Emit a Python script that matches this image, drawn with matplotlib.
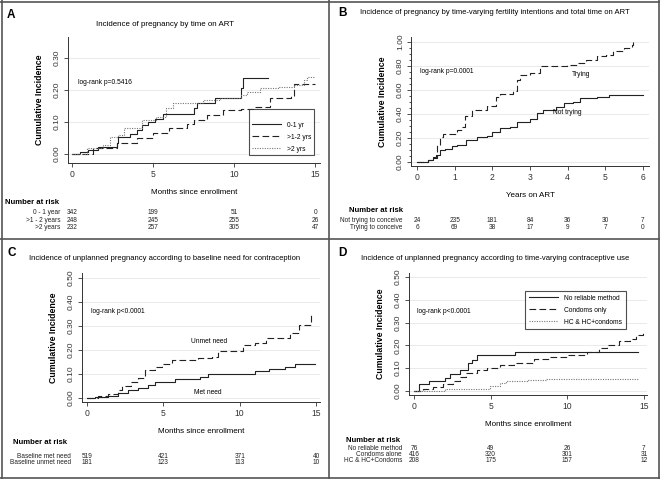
import numpy as np
import matplotlib
matplotlib.use("Agg")
import matplotlib.pyplot as plt
from matplotlib.lines import Line2D
from matplotlib.transforms import blended_transform_factory

plt.rcParams['font.family'] = ['Liberation Sans', 'DejaVu Sans']

W, H = 660, 479

# ---- panel A: pregnancy by time on ART ----
a_t1 = [0, 0.5, 1.0, 1.6, 2.75, 2.85, 3.6, 4.0, 4.3, 4.7, 5.1, 5.6, 7.5, 7.7, 8.8, 10.4, 10.55, 12.1]
a_v1 = [0, 0.007, 0.012, 0.023, 0.033, 0.052, 0.062, 0.075, 0.09, 0.10, 0.11, 0.124, 0.143, 0.16, 0.174, 0.205, 0.238, 0.238]
a_t2 = [0, 1.3, 2.75, 4.0, 5.0, 6.0, 7.1, 7.5, 8.3, 9.3, 10.4, 11.2, 12.2, 13.5, 13.7, 15.0]
a_v2 = [0, 0.018, 0.033, 0.049, 0.065, 0.08, 0.093, 0.106, 0.122, 0.137, 0.14, 0.148, 0.174, 0.18, 0.22, 0.22]
a_t3 = [0, 0.9, 1.9, 2.35, 2.85, 3.2, 4.3, 5.2, 5.8, 6.25, 8.1, 9.1, 10.4, 10.8, 11.6, 12.8, 13.7, 14.3, 14.5, 14.9]
a_v3 = [0, 0.018, 0.028, 0.054, 0.06, 0.08, 0.106, 0.117, 0.143, 0.16, 0.17, 0.174, 0.185, 0.195, 0.205, 0.21, 0.216, 0.23, 0.24, 0.24]
a_labels = ["0-1 yr", ">1-2 yrs", ">2 yrs"]
a_risk_rows = ["0 - 1 year", ">1 - 2 years", ">2 years"]
a_risk_x = [0, 5, 10, 15]
a_risk = [[342, 199, 51, 0], [248, 245, 255, 26], [232, 257, 305, 47]]

# ---- panel B: fertility intentions ----
b_t1 = [0, 0.3, 0.43, 0.5, 0.6, 0.75, 0.92, 1.05, 1.3, 1.6, 1.85, 2.0, 2.2, 2.47, 2.65, 3.0, 3.18, 3.35, 3.7, 3.9, 4.15, 4.33, 4.77, 5.1, 6.0]
b_v1 = [0, 0.015, 0.04, 0.06, 0.10, 0.11, 0.13, 0.14, 0.18, 0.205, 0.215, 0.25, 0.28, 0.29, 0.33, 0.36, 0.405, 0.43, 0.455, 0.49, 0.50, 0.53, 0.545, 0.56, 0.56]
b_t2 = [0, 0.3, 0.43, 0.54, 0.6, 0.7, 1.05, 1.2, 1.27, 1.45, 1.85, 2.1, 2.2, 2.55, 2.65, 2.73, 3.0, 3.27, 3.97, 4.24, 4.5, 4.77, 5.03, 5.2, 5.5, 5.7, 5.74]
b_v2 = [0, 0.015, 0.03, 0.14, 0.21, 0.23, 0.27, 0.29, 0.38, 0.43, 0.47, 0.54, 0.57, 0.59, 0.68, 0.725, 0.74, 0.80, 0.81, 0.82, 0.85, 0.88, 0.89, 0.92, 0.95, 0.975, 1.0]
b_risk_rows = ["Not trying to conceive", "Trying to conceive"]
b_risk_x = [0, 1, 2, 3, 4, 5, 6]
b_risk = [[24, 235, 181, 84, 36, 30, 7], [6, 69, 38, 17, 9, 7, 0]]

# ---- panel C: baseline need for contraception ----
c_t1 = [0, 0.5, 1.4, 2.05, 2.7, 3.36, 4.0, 4.45, 5.76, 7.4, 7.95, 10.1, 11.0, 11.9, 13.0, 13.6, 14.9]
c_v1 = [0, 0.005, 0.01, 0.02, 0.033, 0.04, 0.054, 0.065, 0.078, 0.089, 0.099, 0.101, 0.11, 0.12, 0.13, 0.143, 0.143]
c_t2 = [0, 0.7, 1.4, 2.05, 2.27, 2.9, 3.36, 3.8, 4.45, 4.9, 5.55, 7.3, 8.2, 8.6, 10.2, 11.0, 11.7, 13.3, 13.9, 14.7, 14.85]
c_v2 = [0, 0.008, 0.015, 0.033, 0.05, 0.068, 0.082, 0.117, 0.13, 0.14, 0.158, 0.165, 0.172, 0.196, 0.22, 0.23, 0.25, 0.27, 0.304, 0.346, 0.346]
c_risk_rows = ["Baseline met need", "Baseline unmet need"]
c_risk_x = [0, 5, 10, 15]
c_risk = [[519, 421, 371, 40], [181, 123, 113, 10]]

# ---- panel D: time-varying contraceptive use ----
d_t1 = [0, 0.35, 1.0, 2.0, 2.35, 3.0, 3.55, 3.8, 4.1, 6.6, 14.6]
d_v1 = [0, 0.03, 0.044, 0.058, 0.073, 0.09, 0.124, 0.136, 0.158, 0.17, 0.17]
d_t2 = [0, 0.6, 1.26, 1.9, 2.56, 3.0, 3.4, 4.1, 4.74, 5.6, 6.5, 7.8, 8.9, 9.96, 11.3, 12.1, 12.56, 13.4, 14.1, 14.5, 14.96]
d_v2 = [0, 0.009, 0.019, 0.029, 0.044, 0.063, 0.077, 0.092, 0.102, 0.114, 0.124, 0.139, 0.15, 0.158, 0.17, 0.187, 0.2, 0.22, 0.23, 0.246, 0.26]
d_t3 = [0, 2.0, 4.96, 5.6, 6.0, 7.35, 8.6, 14.7]
d_v3 = [0, 0.009, 0.023, 0.034, 0.044, 0.048, 0.053, 0.053]
d_labels = ["No reliable method", "Condoms only", "HC & HC+condoms"]
d_risk_rows = ["No reliable method", "Condoms alone", "HC & HC+Condoms"]
d_risk_x = [0, 5, 10, 15]
d_risk = [[76, 49, 26, 7], [416, 320, 301, 31], [208, 175, 157, 12]]

solid = dict(color='#222222', lw=0.8, linestyle='-')
dashed = dict(color='#222222', lw=0.8, linestyle=(0, (6, 3)))
dotted = dict(color='#777777', lw=0.8, linestyle=(0, (1, 1.2)))

fig = plt.figure(figsize=(W / 100, H / 100), dpi=100)


def fy(py):
    return 1 - py / H


def make_axes(l, t, r, b, xlim, ylim, xticks, yticks):
    ax = fig.add_axes([l / W, 1 - b / H, (r - l) / W, (b - t) / H])
    ax.set_xlim(xlim)
    ax.set_ylim(ylim)
    ax.set_xticks(xticks)
    ax.set_xticklabels([str(x) for x in xticks], fontsize=6.2)
    ax.set_yticks(yticks)
    ax.set_yticklabels(["%.2f" % y for y in yticks], fontsize=6.0, rotation=90, va='center')
    for s in ['top', 'right']:
        ax.spines[s].set_visible(False)
    for s in ['left', 'bottom']:
        ax.spines[s].set_linewidth(0.7)
        ax.spines[s].set_color('#333333')
    ax.tick_params(direction='out', length=3, width=0.6, pad=2, colors='#333333')
    for y in yticks:
        ax.axhline(y, color='#e6e6e6', lw=0.6, zorder=0)
    ax.set_ylabel("Cumulative Incidence", fontsize=6.3, fontweight='bold', labelpad=7)
    return ax


def risk_table(ax, rows, xs, vals, label_px, row_py):
    tr = blended_transform_factory(ax.transData, fig.transFigure)
    for name, row, py in zip(rows, vals, row_py):
        fig.text(label_px / W, fy(py), name, fontsize=4.7, ha='right', va='center', color='#222222')
        for x, n in zip(xs, row):
            ax.text(x, fy(py), str(n), fontsize=4.7, ha='center', va='center',
                    transform=tr, clip_on=False, color='#222222')


def legend_box(ax, labels, x_px, y_px, title, pad):
    hs = [Line2D([], [], **solid), Line2D([], [], **dashed), Line2D([], [], **dotted)]
    leg = ax.legend(hs, labels, loc='upper left', bbox_to_anchor=(x_px / W, fy(y_px)),
                    bbox_transform=fig.transFigure, fontsize=4.8, frameon=True, fancybox=False,
                    edgecolor='#222222', handlelength=4.4, handletextpad=0.9, labelspacing=0.75,
                    borderpad=pad, borderaxespad=0, title=title, title_fontsize=4.5)
    leg.get_frame().set_linewidth(0.8)
    return leg


# panel A
axA = make_axes(68, 37, 320, 163, (-0.25, 15.3), (-0.028, 0.366), [0, 5, 10, 15], [0, 0.1, 0.2, 0.3])
axA.step(a_t1, a_v1, where='post', **solid)
axA.step(a_t2, a_v2, where='post', **dashed)
axA.step(a_t3, a_v3, where='post', **dotted)
axA.text(0.35, 0.225, "log-rank p=0.5416", fontsize=4.8, va='center')
axA.set_xlabel("Months since enrollment", fontsize=5.8, labelpad=7)
legend_box(axA, a_labels, 249, 109, " ", 0.4)
fig.text(5 / W, fy(203), "Number at risk", fontsize=5.6, fontweight='bold', va='center')
risk_table(axA, a_risk_rows, a_risk_x, a_risk, 60, [213, 221, 228])
fig.text(7 / W, fy(15), "A", fontsize=8.5, fontweight='bold', va='center')
fig.text(165 / W, fy(24), "Incidence of pregnancy by time on ART", fontsize=5.7, ha='center', va='center')

# panel B
axB = make_axes(411, 37, 649, 166, (-0.16, 6.16), (-0.033, 1.04), [0, 1, 2, 3, 4, 5, 6], [0, 0.2, 0.4, 0.6, 0.8, 1.0])
axB.set_yticks(np.arange(0, 1.01, 0.05), minor=True)
axB.tick_params(axis='y', which='minor', length=1.5, width=0.5)
axB.step(b_t1, b_v1, where='post', **solid)
axB.step(b_t2, b_v2, where='post', **dashed)
axB.text(0.09, 0.75, "log-rank p=0.0001", fontsize=4.8, va='center')
axB.text(4.1, 0.73, "Trying", fontsize=4.8, va='center')
axB.text(3.6, 0.41, "Not trying", fontsize=4.8, va='center')
axB.set_xlabel("Years on ART", fontsize=5.8, labelpad=7)
fig.text(349 / W, fy(211), "Number at risk", fontsize=5.6, fontweight='bold', va='center')
risk_table(axB, b_risk_rows, b_risk_x, b_risk, 402, [221, 228])
fig.text(338 / W, fy(13), "B", fontsize=8.5, fontweight='bold', va='center')
fig.text(495 / W, fy(13), "Incidence of pregnancy by time-varying fertility intentions and total time on ART",
         fontsize=5.5, ha='center', va='center')

# panel C
axC = make_axes(82, 273, 320, 402, (-0.33, 15.26), (-0.017, 0.52), [0, 5, 10, 15], [0, 0.1, 0.2, 0.3, 0.4, 0.5])
axC.step(c_t1, c_v1, where='post', **solid)
axC.step(c_t2, c_v2, where='post', **dashed)
axC.text(0.24, 0.358, "log-rank p<0.0001", fontsize=4.8, va='center')
axC.text(6.8, 0.233, "Unmet need", fontsize=4.8, va='center')
axC.text(7.0, 0.023, "Met need", fontsize=4.8, va='center')
axC.set_xlabel("Months since enrollment", fontsize=5.8, labelpad=7)
fig.text(13 / W, fy(442), "Number at risk", fontsize=5.6, fontweight='bold', va='center')
risk_table(axC, c_risk_rows, c_risk_x, c_risk, 71, [456, 463])
fig.text(8 / W, fy(253), "C", fontsize=8.5, fontweight='bold', va='center')
fig.text(165 / W, fy(259), "Incidence of unplanned pregnancy according to baseline need for contraception",
         fontsize=5.5, ha='center', va='center')

# panel D
axD = make_axes(409, 273, 647, 395, (-0.33, 15.2), (-0.018, 0.518), [0, 5, 10, 15], [0, 0.1, 0.2, 0.3, 0.4, 0.5])
axD.step(d_t1, d_v1, where='post', **solid)
axD.step(d_t2, d_v2, where='post', **dashed)
axD.step(d_t3, d_v3, where='post', **dotted)
axD.text(0.2, 0.35, "log-rank p<0.0001", fontsize=4.8, va='center')
axD.set_xlabel("Months since enrollment", fontsize=5.8, labelpad=7)
legend_box(axD, d_labels, 525, 291, None, 0.55)
fig.text(346 / W, fy(440), "Number at risk", fontsize=5.6, fontweight='bold', va='center')
risk_table(axD, d_risk_rows, d_risk_x, d_risk, 402, [449, 455, 461])
fig.text(338 / W, fy(253), "D", fontsize=8.5, fontweight='bold', va='center')
fig.text(495 / W, fy(259), "Incidence of unplanned pregnancy according to time-varying contraceptive use",
         fontsize=5.5, ha='center', va='center')

# panel borders
for x in [1.5, 329, 658.5]:
    fig.add_artist(Line2D([x / W, x / W], [0, 1], color='#555555', lw=1.2))
for y in [1.5, 239, 477.5]:
    fig.add_artist(Line2D([0, 1], [fy(y), fy(y)], color='#555555', lw=1.2))

fig.savefig("out.png", dpi=100)
